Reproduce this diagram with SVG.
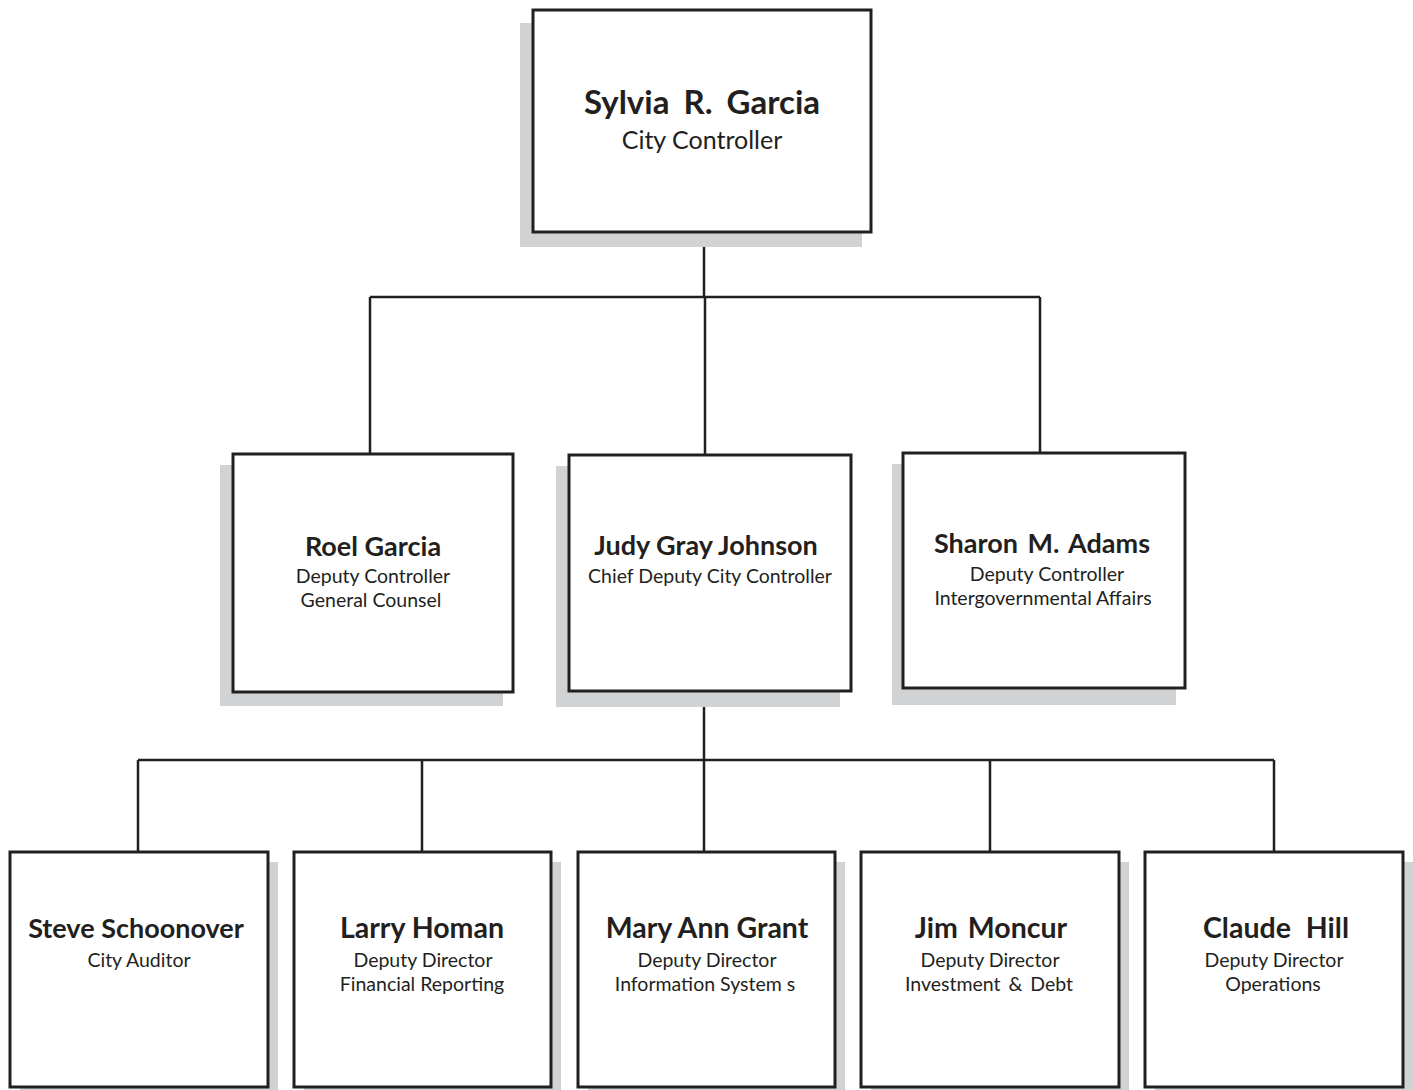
<svg xmlns="http://www.w3.org/2000/svg" width="1413" height="1090" viewBox="0 0 1413 1090">
<style>
.bg{fill:#ffffff}
.shadow{fill:#d1d2d4}
.box{fill:#ffffff;stroke:#231f20;stroke-width:3}
.conn{fill:none;stroke:#231f20;stroke-width:2.5}
.name{font-family:Lato,"Open Sans","Liberation Sans",sans-serif;font-weight:bold;fill:#231f20;text-anchor:middle}
.title{font-family:Lato,"Open Sans","Liberation Sans",sans-serif;fill:#231f20;text-anchor:middle}
.n1{font-size:33px;word-spacing:6px}
.t1{font-size:25px}
.n2{font-size:27px}
.n3{font-size:28.5px}
.t2{font-size:19.5px}
</style>
<rect class="bg" x="0" y="0" width="1413" height="1090"/>
<g id="connectors">
<path class="conn" d="M704 232 V297 M370 297 H1040 M370 297 V454 M705 297 V455 M1040 297 V453"/>
<path class="conn" d="M704 691 V760 M138 760 H1274 M138 760 V852 M422 760 V852 M704 760 V852 M990 760 V852 M1274 760 V852"/>
</g>
<g id="sylvia">
<rect class="shadow" x="520" y="23" width="342" height="224"/>
<rect class="box" x="533" y="10" width="338" height="222"/>
<text class="name n1" x="702" y="114">Sylvia R. Garcia</text>
<text class="title t1" x="702" y="149">City Controller</text>
</g>
<g id="roel">
<rect class="shadow" x="220" y="465" width="283" height="241"/>
<rect class="box" x="233" y="454" width="280" height="238"/>
<text class="name n2" x="373" y="556">Roel Garcia</text>
<text class="title t2" x="373" y="583">Deputy Controller</text>
<text class="title t2" x="371" y="607">General Counsel</text>
</g>
<g id="judy">
<rect class="shadow" x="556" y="466" width="284" height="241"/>
<rect class="box" x="569" y="455" width="282" height="236"/>
<text class="name n2" x="706" y="555">Judy Gray Johnson</text>
<text class="title t2" x="710" y="583">Chief Deputy City Controller</text>
</g>
<g id="sharon">
<rect class="shadow" x="892" y="464" width="284" height="241"/>
<rect class="box" x="903" y="453" width="282" height="235"/>
<text class="name n2" x="1042" y="553" style="word-spacing:3px">Sharon M. Adams</text>
<text class="title t2" x="1047" y="581">Deputy Controller</text>
<text class="title t2" x="1043" y="605">Intergovernmental Affairs</text>
</g>
<g id="steve">
<rect class="shadow" x="20" y="862" width="258" height="235"/>
<rect class="box" x="10" y="852" width="258" height="235"/>
<text class="name n2" x="136" y="938">Steve Schoonover</text>
<text class="title t2" x="139" y="967">City Auditor</text>
</g>
<g id="larry">
<rect class="shadow" x="304" y="862" width="257" height="235"/>
<rect class="box" x="294" y="852" width="257" height="235"/>
<text class="name n3" x="422" y="938">Larry Homan</text>
<text class="title t2" x="423" y="967">Deputy Director</text>
<text class="title t2" x="422" y="991">Financial Reporting</text>
</g>
<g id="maryann">
<rect class="shadow" x="588" y="862" width="257" height="235"/>
<rect class="box" x="578" y="852" width="257" height="235"/>
<text class="name n3" x="707" y="938">Mary Ann Grant</text>
<text class="title t2" x="707" y="967">Deputy Director</text>
<text class="title t2" x="705" y="991">Information System s</text>
</g>
<g id="jim">
<rect class="shadow" x="871" y="862" width="258" height="235"/>
<rect class="box" x="861" y="852" width="258" height="235"/>
<text class="name n3" x="991" y="938" style="word-spacing:3px">Jim Moncur</text>
<text class="title t2" x="990" y="967">Deputy Director</text>
<text class="title t2" x="989" y="991" style="word-spacing:3px">Investment &amp; Debt</text>
</g>
<g id="claude">
<rect class="shadow" x="1155" y="862" width="258" height="235"/>
<rect class="box" x="1145" y="852" width="258" height="235"/>
<text class="name n3" x="1276" y="938" style="word-spacing:8px">Claude Hill</text>
<text class="title t2" x="1274" y="967">Deputy Director</text>
<text class="title t2" x="1273" y="991">Operations</text>
</g>
</svg>
